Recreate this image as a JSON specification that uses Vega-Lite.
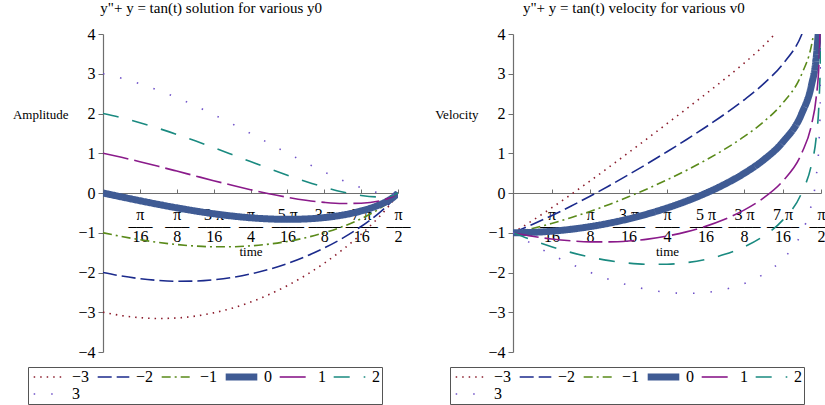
{
  "$schema": "https://vega.github.io/schema/vega-lite/v6.json",
  "padding": {"left": 12, "top": 1, "right": 0, "bottom": 0},
  "spacing": 24,
  "resolve": {"scale": {"color": "independent", "strokeDash": "independent", "strokeWidth": "independent"}, "legend": {"color": "independent", "strokeDash": "independent", "strokeWidth": "independent"}},
  "datasets": {
    "amp": [
      {"t":0,"g":"−3","y":-3},{"t":0.0982,"g":"−3","y":-3.0834},{"t":0.1963,"g":"−3","y":-3.1362},{"t":0.2945,"g":"−3","y":-3.1568},{"t":0.3927,"g":"−3","y":-3.1442},{"t":0.4909,"g":"−3","y":-3.0972},{"t":0.589,"g":"−3","y":-3.0152},{"t":0.6872,"g":"−3","y":-2.8978},{"t":0.7854,"g":"−3","y":-2.7446},{"t":0.8836,"g":"−3","y":-2.5552},{"t":0.9817,"g":"−3","y":-2.3294},{"t":1.0799,"g":"−3","y":-2.0668},{"t":1.1781,"g":"−3","y":-1.766},{"t":1.2763,"g":"−3","y":-1.4248},{"t":1.3744,"g":"−3","y":-1.0375},{"t":1.4726,"g":"−3","y":-0.5894},{"t":1.5217,"g":"−3","y":-0.3291},{"t":1.5463,"g":"−3","y":-0.1816},{"t":1.5708,"g":"−3","y":0},
      {"t":0,"g":"−2","y":-2},{"t":0.0982,"g":"−2","y":-2.0882},{"t":0.1963,"g":"−2","y":-2.1554},{"t":0.2945,"g":"−2","y":-2.1999},{"t":0.3927,"g":"−2","y":-2.2203},{"t":0.4909,"g":"−2","y":-2.2153},{"t":0.589,"g":"−2","y":-2.1838},{"t":0.6872,"g":"−2","y":-2.1248},{"t":0.7854,"g":"−2","y":-2.0375},{"t":0.8836,"g":"−2","y":-1.9208},{"t":0.9817,"g":"−2","y":-1.7739},{"t":1.0799,"g":"−2","y":-1.5954},{"t":1.1781,"g":"−2","y":-1.3834},{"t":1.2763,"g":"−2","y":-1.1345},{"t":1.3744,"g":"−2","y":-0.8424},{"t":1.4726,"g":"−2","y":-0.4914},{"t":1.5217,"g":"−2","y":-0.28},{"t":1.5463,"g":"−2","y":-0.1571},{"t":1.5708,"g":"−2","y":0},
      {"t":0,"g":"−1","y":-1},{"t":0.0982,"g":"−1","y":-1.0931},{"t":0.1963,"g":"−1","y":-1.1746},{"t":0.2945,"g":"−1","y":-1.2429},{"t":0.3927,"g":"−1","y":-1.2964},{"t":0.4909,"g":"−1","y":-1.3334},{"t":0.589,"g":"−1","y":-1.3523},{"t":0.6872,"g":"−1","y":-1.3518},{"t":0.7854,"g":"−1","y":-1.3303},{"t":0.8836,"g":"−1","y":-1.2864},{"t":0.9817,"g":"−1","y":-1.2183},{"t":1.0799,"g":"−1","y":-1.124},{"t":1.1781,"g":"−1","y":-1.0007},{"t":1.2763,"g":"−1","y":-0.8442},{"t":1.3744,"g":"−1","y":-0.6473},{"t":1.4726,"g":"−1","y":-0.3934},{"t":1.5217,"g":"−1","y":-0.231},{"t":1.5463,"g":"−1","y":-0.1325},{"t":1.5708,"g":"−1","y":0},
      {"t":0,"g":"0","y":0},{"t":0.0982,"g":"0","y":-0.0979},{"t":0.1963,"g":"0","y":-0.1938},{"t":0.2945,"g":"0","y":-0.286},{"t":0.3927,"g":"0","y":-0.3725},{"t":0.4909,"g":"0","y":-0.4514},{"t":0.589,"g":"0","y":-0.5208},{"t":0.6872,"g":"0","y":-0.5788},{"t":0.7854,"g":"0","y":-0.6232},{"t":0.8836,"g":"0","y":-0.652},{"t":0.9817,"g":"0","y":-0.6627},{"t":1.0799,"g":"0","y":-0.6526},{"t":1.1781,"g":"0","y":-0.618},{"t":1.2763,"g":"0","y":-0.5539},{"t":1.3744,"g":"0","y":-0.4522},{"t":1.4726,"g":"0","y":-0.2954},{"t":1.5217,"g":"0","y":-0.1819},{"t":1.5463,"g":"0","y":-0.108},{"t":1.5708,"g":"0","y":0},
      {"t":0,"g":"1","y":1},{"t":0.0982,"g":"1","y":0.8973},{"t":0.1963,"g":"1","y":0.787},{"t":0.2945,"g":"1","y":0.6709},{"t":0.3927,"g":"1","y":0.5514},{"t":0.4909,"g":"1","y":0.4305},{"t":0.589,"g":"1","y":0.3106},{"t":0.6872,"g":"1","y":0.1942},{"t":0.7854,"g":"1","y":0.0839},{"t":0.8836,"g":"1","y":-0.0176},{"t":0.9817,"g":"1","y":-0.1072},{"t":1.0799,"g":"1","y":-0.1812},{"t":1.1781,"g":"1","y":-0.2353},{"t":1.2763,"g":"1","y":-0.2637},{"t":1.3744,"g":"1","y":-0.2571},{"t":1.4726,"g":"1","y":-0.1973},{"t":1.5217,"g":"1","y":-0.1328},{"t":1.5463,"g":"1","y":-0.0835},{"t":1.5708,"g":"1","y":0},
      {"t":0,"g":"2","y":2},{"t":0.0982,"g":"2","y":1.8925},{"t":0.1963,"g":"2","y":1.7678},{"t":0.2945,"g":"2","y":1.6279},{"t":0.3927,"g":"2","y":1.4753},{"t":0.4909,"g":"2","y":1.3124},{"t":0.589,"g":"2","y":1.1421},{"t":0.6872,"g":"2","y":0.9672},{"t":0.7854,"g":"2","y":0.791},{"t":0.8836,"g":"2","y":0.6168},{"t":0.9817,"g":"2","y":0.4484},{"t":1.0799,"g":"2","y":0.2902},{"t":1.1781,"g":"2","y":0.1474},{"t":1.2763,"g":"2","y":0.0266},{"t":1.3744,"g":"2","y":-0.062},{"t":1.4726,"g":"2","y":-0.0993},{"t":1.5217,"g":"2","y":-0.0838},{"t":1.5463,"g":"2","y":-0.0589},{"t":1.5708,"g":"2","y":0},
      {"t":0,"g":"3","y":3},{"t":0.0982,"g":"3","y":2.8877},{"t":0.1963,"g":"3","y":2.7485},{"t":0.2945,"g":"3","y":2.5848},{"t":0.3927,"g":"3","y":2.3991},{"t":0.4909,"g":"3","y":2.1943},{"t":0.589,"g":"3","y":1.9736},{"t":0.6872,"g":"3","y":1.7403},{"t":0.7854,"g":"3","y":1.4981},{"t":0.8836,"g":"3","y":1.2512},{"t":0.9817,"g":"3","y":1.004},{"t":1.0799,"g":"3","y":0.7616},{"t":1.1781,"g":"3","y":0.5301},{"t":1.2763,"g":"3","y":0.3169},{"t":1.3744,"g":"3","y":0.1331},{"t":1.4726,"g":"3","y":-0.0013},{"t":1.5217,"g":"3","y":-0.0347},{"t":1.5463,"g":"3","y":-0.0344},{"t":1.5708,"g":"3","y":0}
    ],
    "vel": [
      {"t":0,"g":"−3","y":-1},{"t":0.0982,"g":"−3","y":-0.6963},{"t":0.1963,"g":"−3","y":-0.3762},{"t":0.2945,"g":"−3","y":-0.0424},{"t":0.3927,"g":"−3","y":0.3023},{"t":0.4909,"g":"−3","y":0.6555},{"t":0.589,"g":"−3","y":1.0147},{"t":0.6872,"g":"−3","y":1.3782},{"t":0.7854,"g":"−3","y":1.7446},{"t":0.8836,"g":"−3","y":2.1135},{"t":0.9817,"g":"−3","y":2.4863},{"t":1.0799,"g":"−3","y":2.8666},{"t":1.1781,"g":"−3","y":3.2636},{"t":1.2763,"g":"−3","y":3.6969},{"t":1.3744,"g":"−3","y":4.2156},
      {"t":0,"g":"−2","y":-1},{"t":0.0982,"g":"−2","y":-0.7943},{"t":0.1963,"g":"−2","y":-0.5713},{"t":0.2945,"g":"−2","y":-0.3327},{"t":0.3927,"g":"−2","y":-0.0803},{"t":0.4909,"g":"−2","y":0.1841},{"t":0.589,"g":"−2","y":0.4592},{"t":0.6872,"g":"−2","y":0.7438},{"t":0.7854,"g":"−2","y":1.0375},{"t":0.8836,"g":"−2","y":1.3405},{"t":0.9817,"g":"−2","y":1.6548},{"t":1.0799,"g":"−2","y":1.9847},{"t":1.1781,"g":"−2","y":2.3397},{"t":1.2763,"g":"−2","y":2.74},{"t":1.3744,"g":"−2","y":3.2349},{"t":1.4726,"g":"−2","y":3.9891},{"t":1.5217,"g":"−2","y":4.7002},
      {"t":0,"g":"−1","y":-1},{"t":0.0982,"g":"−1","y":-0.8923},{"t":0.1963,"g":"−1","y":-0.7664},{"t":0.2945,"g":"−1","y":-0.623},{"t":0.3927,"g":"−1","y":-0.463},{"t":0.4909,"g":"−1","y":-0.2873},{"t":0.589,"g":"−1","y":-0.0964},{"t":0.6872,"g":"−1","y":0.1094},{"t":0.7854,"g":"−1","y":0.3303},{"t":0.8836,"g":"−1","y":0.5675},{"t":0.9817,"g":"−1","y":0.8233},{"t":1.0799,"g":"−1","y":1.1028},{"t":1.1781,"g":"−1","y":1.4159},{"t":1.2763,"g":"−1","y":1.783},{"t":1.3744,"g":"−1","y":2.2541},{"t":1.4726,"g":"−1","y":2.994},{"t":1.5217,"g":"−1","y":3.7014},{"t":1.5463,"g":"−1","y":4.3988},
      {"t":0,"g":"0","y":-1},{"t":0.0982,"g":"0","y":-0.9904},{"t":0.1963,"g":"0","y":-0.9614},{"t":0.2945,"g":"0","y":-0.9132},{"t":0.3927,"g":"0","y":-0.8457},{"t":0.4909,"g":"0","y":-0.7587},{"t":0.589,"g":"0","y":-0.652},{"t":0.6872,"g":"0","y":-0.525},{"t":0.7854,"g":"0","y":-0.3768},{"t":0.8836,"g":"0","y":-0.2055},{"t":0.9817,"g":"0","y":-0.0082},{"t":1.0799,"g":"0","y":0.2209},{"t":1.1781,"g":"0","y":0.492},{"t":1.2763,"g":"0","y":0.8261},{"t":1.3744,"g":"0","y":1.2733},{"t":1.4726,"g":"0","y":1.9988},{"t":1.5217,"g":"0","y":2.7026},{"t":1.5463,"g":"0","y":3.3991},{"t":1.561,"g":"0","y":4.3165},
      {"t":0,"g":"1","y":-1},{"t":0.0982,"g":"1","y":-1.0884},{"t":0.1963,"g":"1","y":-1.1565},{"t":0.2945,"g":"1","y":-1.2035},{"t":0.3927,"g":"1","y":-1.2284},{"t":0.4909,"g":"1","y":-1.2301},{"t":0.589,"g":"1","y":-1.2076},{"t":0.6872,"g":"1","y":-1.1594},{"t":0.7854,"g":"1","y":-1.0839},{"t":0.8836,"g":"1","y":-0.9785},{"t":0.9817,"g":"1","y":-0.8396},{"t":1.0799,"g":"1","y":-0.661},{"t":1.1781,"g":"1","y":-0.4319},{"t":1.2763,"g":"1","y":-0.1308},{"t":1.3744,"g":"1","y":0.2925},{"t":1.4726,"g":"1","y":1.0036},{"t":1.5217,"g":"1","y":1.7038},{"t":1.5463,"g":"1","y":2.3994},{"t":1.561,"g":"1","y":3.3165},{"t":1.5679,"g":"1","y":4.5207},
      {"t":0,"g":"2","y":-1},{"t":0.0982,"g":"2","y":-1.1864},{"t":0.1963,"g":"2","y":-1.3516},{"t":0.2945,"g":"2","y":-1.4938},{"t":0.3927,"g":"2","y":-1.6111},{"t":0.4909,"g":"2","y":-1.7015},{"t":0.589,"g":"2","y":-1.7631},{"t":0.6872,"g":"2","y":-1.7938},{"t":0.7854,"g":"2","y":-1.791},{"t":0.8836,"g":"2","y":-1.7516},{"t":0.9817,"g":"2","y":-1.6711},{"t":1.0799,"g":"2","y":-1.543},{"t":1.1781,"g":"2","y":-1.3558},{"t":1.2763,"g":"2","y":-1.0878},{"t":1.3744,"g":"2","y":-0.6883},{"t":1.4726,"g":"2","y":0.0084},{"t":1.5217,"g":"2","y":0.705},{"t":1.5463,"g":"2","y":1.3997},{"t":1.561,"g":"2","y":2.3166},{"t":1.5679,"g":"2","y":3.5207},{"t":1.5698,"g":"2","y":4.6194},
      {"t":0,"g":"3","y":-1},{"t":0.0982,"g":"3","y":-1.2844},{"t":0.1963,"g":"3","y":-1.5467},{"t":0.2945,"g":"3","y":-1.7841},{"t":0.3927,"g":"3","y":-1.9937},{"t":0.4909,"g":"3","y":-2.1729},{"t":0.589,"g":"3","y":-2.3187},{"t":0.6872,"g":"3","y":-2.4282},{"t":0.7854,"g":"3","y":-2.4981},{"t":0.8836,"g":"3","y":-2.5246},{"t":0.9817,"g":"3","y":-2.5026},{"t":1.0799,"g":"3","y":-2.4249},{"t":1.1781,"g":"3","y":-2.2797},{"t":1.2763,"g":"3","y":-2.0447},{"t":1.3744,"g":"3","y":-1.6691},{"t":1.4726,"g":"3","y":-0.9868},{"t":1.5217,"g":"3","y":-0.2938},{"t":1.5463,"g":"3","y":0.4},{"t":1.561,"g":"3","y":1.3166},{"t":1.5679,"g":"3","y":2.5207},{"t":1.5698,"g":"3","y":3.6194},{"t":1.5703,"g":"3","y":4.3125}
    ]
  },
  "hconcat": [
    {
      "width": 295,
      "height": 318,
      "title": {"text": "y\"+ y = tan(t) solution for various y0"},
      "data": {"name": "amp"},
      "mark": {"type": "line", "clip": true, "interpolate": "monotone"},
      "encoding": {
        "x": {"field": "t", "type": "quantitative", "scale": {"domain": [0, 1.5708], "nice": false, "zero": false},
          "axis": {"title": "time", "offset": -159, "values": [0.19635, 0.3927, 0.58905, 0.7854, 0.98175, 1.1781, 1.37445, 1.5708],
            "labelExpr": "[['','π','π','3 π','π','5 π','3 π','7 π','π'][round(datum.value*16/PI)], ['','–––','–––','––––','–––','––––','––––','––––','–––'][round(datum.value*16/PI)], ['','16','8','16','4','16','8','16','2'][round(datum.value*16/PI)]]",
            "labelLineHeight": 11, "labelFontSize": 16, "labelPadding": 17, "tickSize": -4, "labelOverlap": false, "labelFlush": false, "labelBound": false,
            "titleFontSize": 13, "titleY": 58, "titleBaseline": "middle"}},
        "y": {"field": "y", "type": "quantitative", "scale": {"domain": [-4, 4], "nice": false, "zero": false},
          "axis": {"title": "Amplitude", "titleAngle": 0, "titleAlign": "right", "titleBaseline": "middle", "titleX": -35, "titleY": 80, "titleFontSize": 13,
            "values": [-4,-3.5,-3,-2.5,-2,-1.5,-1,-0.5,0,0.5,1,1.5,2,2.5,3,3.5,4], "format": "d",
            "labelExpr": "datum.value % 1 === 0 ? datum.label : ''", "labelFontSize": 16, "labelPadding": 3,
            "tickSize": {"condition": {"test": "datum.value % 1 !== 0", "value": 3}, "value": 5}}},
        "color": {"field": "g", "type": "ordinal", "scale": {"domain": ["−3","−2","−1","0","1","2","3"], "range": ["#8B1C2C","#1B2A8C","#5A8A1A","#3F5B94","#8A1A8A","#1A8A80","#6E50C8"]},
          "legend": {"title": null, "orient": "none", "legendX": -75, "legendY": 333, "direction": "horizontal", "columns": 6}},
        "strokeDash": {"field": "g", "type": "ordinal", "scale": {"domain": ["−3","−2","−1","0","1","2","3"], "range": [[1.5,5],[14,5],[9,4,2,4],[1,0],[26,6],[16,14],[1.5,16]]},
          "legend": {"title": null, "orient": "none", "legendX": -75, "legendY": 333, "direction": "horizontal", "columns": 6}},
        "strokeWidth": {"field": "g", "type": "ordinal", "scale": {"type": "ordinal", "domain": ["−3","−2","−1","0","1","2","3"], "range": [1.6,1.6,1.6,7,1.6,1.6,1.6]},
          "legend": {"title": null, "orient": "none", "legendX": -75, "legendY": 333, "direction": "horizontal", "columns": 6}}
      }
    },
    {
      "width": 308,
      "height": 318,
      "title": {"text": "y\"+ y = tan(t) velocity for various v0"},
      "data": {"name": "vel"},
      "mark": {"type": "line", "clip": true, "interpolate": "monotone"},
      "encoding": {
        "x": {"field": "t", "type": "quantitative", "scale": {"domain": [0, 1.5708], "nice": false, "zero": false},
          "axis": {"title": "time", "offset": -159, "values": [0.19635, 0.3927, 0.58905, 0.7854, 0.98175, 1.1781, 1.37445, 1.5708],
            "labelExpr": "[['','π','π','3 π','π','5 π','3 π','7 π','π'][round(datum.value*16/PI)], ['','–––','–––','––––','–––','––––','––––','––––','–––'][round(datum.value*16/PI)], ['','16','8','16','4','16','8','16','2'][round(datum.value*16/PI)]]",
            "labelLineHeight": 11, "labelFontSize": 16, "labelPadding": 17, "tickSize": -4, "labelOverlap": false, "labelFlush": false, "labelBound": false,
            "titleFontSize": 13, "titleY": 58, "titleBaseline": "middle"}},
        "y": {"field": "y", "type": "quantitative", "scale": {"domain": [-4, 4], "nice": false, "zero": false},
          "axis": {"title": "Velocity", "titleAngle": 0, "titleAlign": "right", "titleBaseline": "middle", "titleX": -35, "titleY": 80, "titleFontSize": 13,
            "values": [-4,-3.5,-3,-2.5,-2,-1.5,-1,-0.5,0,0.5,1,1.5,2,2.5,3,3.5,4], "format": "d",
            "labelExpr": "datum.value % 1 === 0 ? datum.label : ''", "labelFontSize": 16, "labelPadding": 3,
            "tickSize": {"condition": {"test": "datum.value % 1 !== 0", "value": 3}, "value": 5}}},
        "color": {"field": "g", "type": "ordinal", "scale": {"domain": ["−3","−2","−1","0","1","2","3"], "range": ["#8B1C2C","#1B2A8C","#5A8A1A","#3F5B94","#8A1A8A","#1A8A80","#6E50C8"]},
          "legend": {"title": null, "orient": "none", "legendX": -63, "legendY": 333, "direction": "horizontal", "columns": 6}},
        "strokeDash": {"field": "g", "type": "ordinal", "scale": {"domain": ["−3","−2","−1","0","1","2","3"], "range": [[1.5,5],[14,5],[9,4,2,4],[1,0],[26,6],[16,14],[1.5,16]]},
          "legend": {"title": null, "orient": "none", "legendX": -63, "legendY": 333, "direction": "horizontal", "columns": 6}},
        "strokeWidth": {"field": "g", "type": "ordinal", "scale": {"type": "ordinal", "domain": ["−3","−2","−1","0","1","2","3"], "range": [1.6,1.6,1.6,7,1.6,1.6,1.6]},
          "legend": {"title": null, "orient": "none", "legendX": -63, "legendY": 333, "direction": "horizontal", "columns": 6}}
      }
    }
  ],
  "config": {
    "view": {"stroke": null},
    "font": "Liberation Serif",
    "axis": {"labelFont": "Liberation Serif", "titleFont": "Liberation Serif", "domainColor": "#6e6e6e", "tickColor": "#6e6e6e", "labelColor": "#000000", "titleColor": "#000000", "grid": false, "titleFontWeight": "normal", "domainWidth": 1.2},
    "title": {"font": "Liberation Serif", "fontSize": 15, "fontWeight": "normal", "anchor": "middle", "frame": "bounds", "offset": 10, "color": "#000000"},
    "legend": {"symbolType": "stroke", "symbolSize": 1000, "clipHeight": 16, "labelFont": "Liberation Serif", "labelFontSize": 16, "labelColor": "#000000", "strokeColor": "#555555", "padding": 2, "columnPadding": 4, "rowPadding": 1, "labelOffset": 3}
  }
}
